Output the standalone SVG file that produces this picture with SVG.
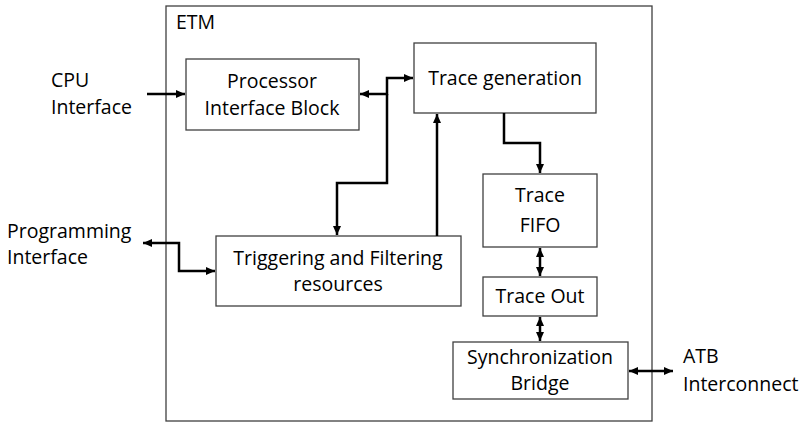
<svg xmlns="http://www.w3.org/2000/svg" width="806" height="423" viewBox="0 0 806 423">
<style>
.box{fill:#fff;stroke:#404040;stroke-width:1.3}
.t{font-family:"Open Sans","Noto Sans",sans-serif;font-size:19.5px;fill:#000}
.c{text-anchor:middle}
.w{fill:none;stroke:#000;stroke-width:2.5}
</style>
<defs>
<marker id="ah" markerUnits="userSpaceOnUse" markerWidth="10" markerHeight="10" viewBox="0 0 10 10" refX="9" refY="5" orient="auto-start-reverse">
<path d="M0,1 L9,5 L0,9 Z" fill="#000"/>
</marker>
</defs>
<rect width="806" height="423" fill="#fff"/>
<g id="etm">
<rect class="box" x="166" y="6" width="486" height="415"/>
<text class="t" x="176" y="29">ETM</text>
</g>
<g id="cpu-label"><text class="t" x="51" y="87">CPU</text><text class="t" x="51" y="114">Interface</text></g>
<g id="prog-label"><text class="t" x="7" y="238">Programming</text><text class="t" x="7" y="264">Interface</text></g>
<g id="atb-label"><text class="t" x="683" y="363">ATB</text><text class="t" x="683" y="391">Interconnect</text></g>
<g id="pib"><rect class="box" x="186" y="59" width="173" height="71"/><text class="t c" x="272" y="88">Processor</text><text class="t c" x="272" y="115">Interface Block</text></g>
<g id="tracegen"><rect class="box" x="414" y="43" width="182" height="70"/><text class="t c" x="505" y="85">Trace generation</text></g>
<g id="trig"><rect class="box" x="216" y="236" width="245" height="70"/><text class="t c" x="338" y="265">Triggering and Filtering</text><text class="t c" x="338" y="291">resources</text></g>
<g id="fifo"><rect class="box" x="483" y="174" width="114" height="73"/><text class="t c" x="540" y="202">Trace</text><text class="t c" x="540" y="232">FIFO</text></g>
<g id="traceout"><rect class="box" x="483" y="277" width="114" height="39"/><text class="t c" x="540" y="303">Trace Out</text></g>
<g id="sync"><rect class="box" x="453" y="342" width="175" height="57"/><text class="t c" x="540" y="364">Synchronization</text><text class="t c" x="540" y="390">Bridge</text></g>
<g id="connectors">
<path class="w" d="M147,94 L185,94" marker-end="url(#ah)"/>
<path class="w" d="M360,94 L387,94 L387,78 L413,78" marker-start="url(#ah)" marker-end="url(#ah)"/>
<path class="w" d="M387,94 L387,183 L337,183 L337,235" marker-end="url(#ah)"/>
<path class="w" d="M437,236 L437,114" marker-end="url(#ah)"/>
<path class="w" d="M143,243 L179,243 L179,271 L215,271" marker-start="url(#ah)" marker-end="url(#ah)"/>
<path class="w" d="M504,113 L504,143 L540,143 L540,173" marker-end="url(#ah)"/>
<path class="w" d="M540,248 L540,276" marker-start="url(#ah)" marker-end="url(#ah)"/>
<path class="w" d="M540,317 L540,341" marker-start="url(#ah)" marker-end="url(#ah)"/>
<path class="w" d="M629,371 L673,371" marker-start="url(#ah)" marker-end="url(#ah)"/>
</g>
</svg>
